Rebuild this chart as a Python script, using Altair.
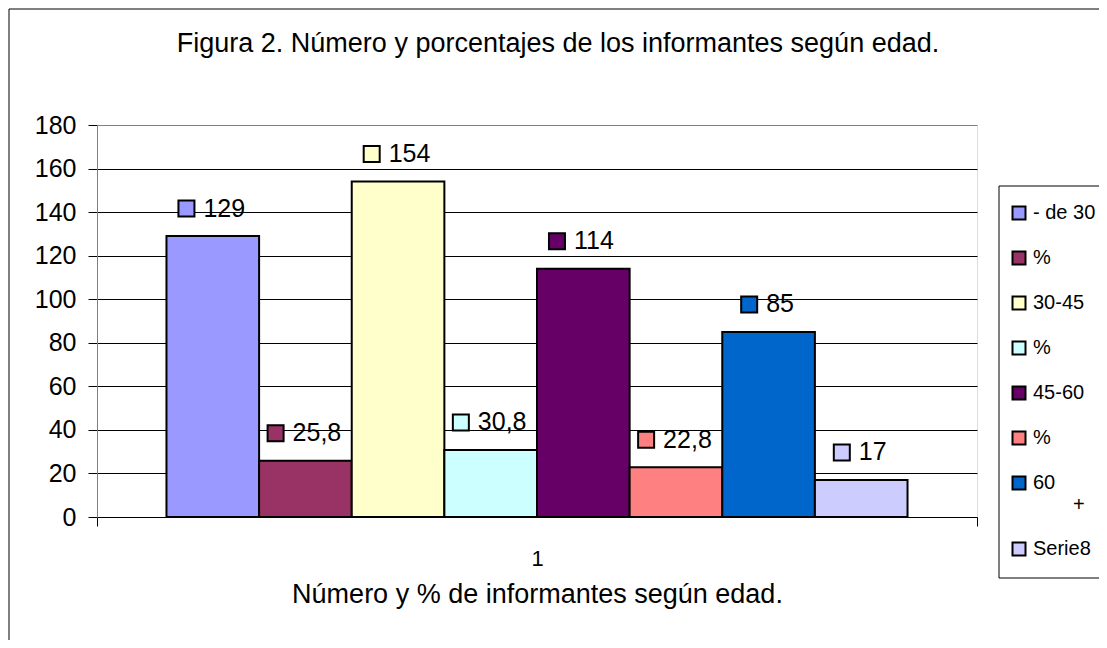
import json
import altair as alt
import pandas as pd

# ---- data ----
series = ["- de 30", "%", "30-45", "%", "45-60", "%", "60 +", "Serie8"]
values = [129, 25.8, 154, 30.8, 114, 22.8, 85, 17]
value_labels = ["129", "25,8", "154", "30,8", "114", "22,8", "85", "17"]
colors = ["#9999FF", "#993366", "#FFFFCC", "#CCFFFF", "#660066", "#FF8080", "#0066CC", "#CCCCFF"]
y_ticks = [0, 20, 40, 60, 80, 100, 120, 140, 160, 180]
category_label = "1"
title_text = "Figura 2. Número y porcentajes de los informantes según edad."
x_title = "Número y % de informantes según edad."

FONT = "Liberation Sans"
W, H = 880, 392
n = len(series)
X_DOM = [-1.25, n - 1 + 1.25]
Y_DOM = [y_ticks[0], y_ticks[-1]]
PXX = W / (X_DOM[1] - X_DOM[0])
PXY = H / (Y_DOM[1] - Y_DOM[0])
MID = (n - 1) / 2
LAB_FS = 25

keys = [f"s{k + 1}" for k in range(n)]
df = pd.DataFrame({"key": keys, "i": list(range(n)), "value": values, "label": value_labels})

xs = alt.Scale(domain=X_DOM, nice=False, zero=False)
ys = alt.Scale(domain=Y_DOM, nice=False)
fill_scale = alt.Scale(domain=keys, range=colors)

# legend label mapping (unique keys -> shown labels, "60 +" wraps onto a second line)
legend_labels = []
for s in series:
    if s == "60 +":
        legend_labels.append(["60", "\u200b" + "\u2002" * 4 + "+"])
    else:
        legend_labels.append(s)
label_expr = f"{json.dumps(legend_labels, ensure_ascii=False)}[indexof({json.dumps(keys)}, datum.label)]"

base = alt.Chart(df).transform_calculate(
    x0="datum.i - 0.5",
    x1="datum.i + 0.5",
    zero="0",
    hascomma="indexof(datum.label, ',') >= 0 ? 1 : 0",
).transform_calculate(
    tw=f"{LAB_FS} * (0.556 * (length(datum.label) - datum.hascomma) + 0.278 * datum.hascomma)",
).transform_calculate(
    start="-(26 + datum.tw) / 2 - 1.5",
).transform_calculate(
    xsq=f"datum.i + (datum.start + 9) / {PXX}",
    xtx=f"datum.i + (datum.start + 26) / {PXX}",
    ylab=f"datum.value + 27.5 / {PXY}",
)

bars = base.mark_rect(stroke="black", strokeWidth=2).encode(
    x=alt.X("x0:Q", scale=xs, axis=alt.Axis(
        values=[X_DOM[0], MID, X_DOM[1]],
        labelExpr=f"datum.value == {MID} ? '{category_label}' : ''",
        tickOpacity={"condition": {"test": f"datum.value == {MID}", "value": 0}, "value": 1},
        tickSize=9, tickColor="black", domainColor="black",
        labelFont=FONT, labelFontSize=22, labelColor="black", labelPadding=22,
        title=x_title, titleFont=FONT, titleFontSize=27, titleFontWeight="normal",
        titleColor="black", titlePadding=12, grid=False,
    )),
    x2="x1:Q",
    y=alt.Y("value:Q", scale=ys, axis=alt.Axis(
        values=y_ticks, tickSize=9, tickColor="black", domainColor="#808080",
        labelFont=FONT, labelFontSize=25, labelColor="black", labelPadding=12,
        grid=True, gridColor={"condition": {"test": "datum.value == 0 || datum.value == 180", "value": "#808080"}, "value": "black"},
        gridOpacity=1, title=None,
    )),
    y2="zero:Q",
    fill=alt.Fill("key:N", scale=fill_scale, legend=alt.Legend(
        orient="none", legendX=912, legendY=78, title=None, padding=0,
        symbolType="square", symbolSize=169, symbolStrokeColor="black", symbolStrokeWidth=2,
        symbolOpacity=1, labelFont=FONT, labelFontSize=20, labelColor="black", labelOffset=4,
        rowPadding=23, labelExpr=label_expr, labelLimit=200,
    )),
)

squares = base.mark_point(shape="square", filled=True, stroke="black", strokeWidth=2, size=256, opacity=1).encode(
    x=alt.X("xsq:Q", scale=xs),
    y=alt.Y("ylab:Q", scale=ys),
    fill=alt.Fill("key:N", scale=fill_scale, legend=None),
)

texts = base.mark_text(align="left", baseline="middle", font=FONT, fontSize=LAB_FS, color="black").encode(
    x=alt.X("xtx:Q", scale=xs),
    y=alt.Y("ylab:Q", scale=ys),
    text="label:N",
)

one = pd.DataFrame({"t": [title_text]})
outer = alt.Chart(one).mark_rect(fill="white", fillOpacity=0, stroke="black", strokeWidth=1).encode(
    x=alt.value(-88), x2=alt.value(3000), y=alt.value(-116), y2=alt.value(3000)
)
legend_box = alt.Chart(one).mark_rect(fill="white", stroke="black", strokeWidth=1).encode(
    x=alt.value(902), x2=alt.value(1003), y=alt.value(61), y2=alt.value(453)
)
title = alt.Chart(one).mark_text(font=FONT, fontSize=27, color="black", align="center", baseline="alphabetic").encode(
    x=alt.value(W / 2 + 21), y=alt.value(-73), text="t:N"
)

chart = alt.layer(outer, legend_box, title, bars, squares, texts).properties(
    width=W, height=H,
    autosize=alt.AutoSizeParams(type="none"),
    padding={"left": 89, "top": 117, "right": 122, "bottom": 123},
).configure_view(fill="#C0C0C0", stroke="#808080", strokeWidth=1).configure(background="white")

chart.save("out.html", embed_options={"renderer": "svg", "actions": False})
